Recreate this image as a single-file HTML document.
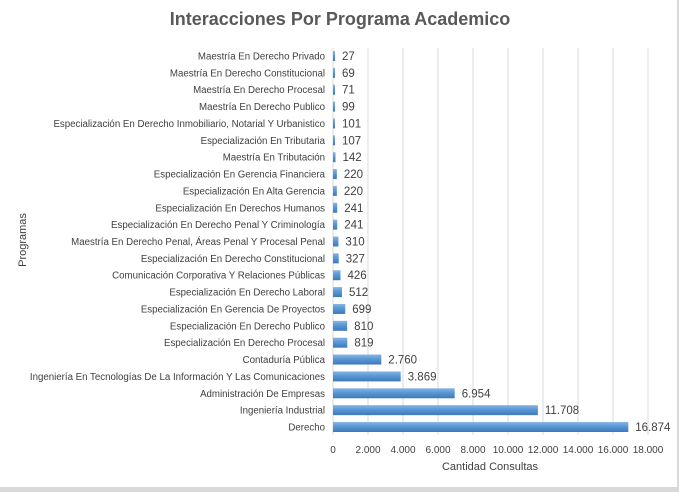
<!DOCTYPE html>
<html><head><meta charset="utf-8"><style>
html,body{margin:0;padding:0;background:#fff}
svg{display:block}
text{font-family:"Liberation Sans",sans-serif;fill:#404040}
</style></head><body>
<svg width="679" height="492" xmlns="http://www.w3.org/2000/svg">
<defs><linearGradient id="g" x1="0" y1="0" x2="0" y2="1">
<stop offset="0" stop-color="#8cb4e6"/><stop offset="0.4" stop-color="#5b9bd5"/><stop offset="1" stop-color="#3f78bd"/></linearGradient></defs>
<rect x="0" y="0" width="679" height="492" fill="#fff"/>
<rect x="0" y="487" width="679" height="5" fill="#d9d9d9"/>
<rect x="677" y="0" width="2" height="492" fill="#d9d9d9"/>
<text x="340" y="25" text-anchor="middle" font-size="18" font-weight="bold" style="fill:#595959">Interacciones Por Programa Academico</text>
<g id="grid" stroke="#d9d9d9" stroke-width="1"></g>
<g id="bars"></g>
<text x="490" y="470" text-anchor="middle" font-size="11">Cantidad Consultas</text>
<text transform="translate(26,240) rotate(-90)" text-anchor="middle" font-size="11">Programas</text>
</svg>
<script>
var d=[["Maestría En Derecho Privado",27],["Maestría En Derecho Constitucional",69],["Maestría En Derecho Procesal",71],["Maestría En Derecho Publico",99],["Especialización En Derecho Inmobiliario, Notarial Y Urbanistico",101],["Especialización En Tributaria",107],["Maestría En Tributación",142],["Especialización En Gerencia Financiera",220],["Especialización En Alta Gerencia",220],["Especialización En Derechos Humanos",241],["Especialización En Derecho Penal Y Criminología",241],["Maestría En Derecho Penal, Áreas Penal Y Procesal Penal",310],["Especialización En Derecho Constitucional",327],["Comunicación Corporativa Y Relaciones Públicas",426],["Especialización En Derecho Laboral",512],["Especialización En Gerencia De Proyectos",699],["Especialización En Derecho Publico",810],["Especialización En Derecho Procesal",819],["Contaduría Pública",2760],["Ingeniería En Tecnologías De La Información Y Las Comunicaciones",3869],["Administración De Empresas",6954],["Ingeniería Industrial",11708],["Derecho",16874]];
var ns="http://www.w3.org/2000/svg",svg=document.querySelector("svg"),G=document.getElementById("grid"),B=document.getElementById("bars");
function el(t,a,p,txt){var e=document.createElementNS(ns,t);for(var k in a)e.setAttribute(k,a[k]);if(txt!=null)e.textContent=txt;p.appendChild(e);return e;}
var x0=333,sc=315/18000;
for(var i=0;i<=9;i++){var x=x0+i*35;el("line",{x1:x,y1:48,x2:x,y2:435},G);
el("text",{x:x,y:453,"text-anchor":"middle","font-size":"10"},svg,i==0?"0":(i*2)+".000");}
var n=d.length,y0=56,step=(427-56)/(n-1);
function fmt(v){return v>=1000?Math.floor(v/1000)+"."+String(v%1000).padStart(3,"0"):String(v);}
for(var j=0;j<n;j++){var r=d[j],y=y0+j*step,w=Math.max(2,r[1]*sc);
el("rect",{x:x0,y:y-5,width:w,height:10,fill:"url(#g)"},B);
el("text",{x:325,y:y+3.5,"text-anchor":"end","font-size":"9.7"},svg,r[0]);
el("text",{x:x0+w+7,y:y+4,"font-size":"11.5"},svg,fmt(r[1]));}
</script>
</body></html>
